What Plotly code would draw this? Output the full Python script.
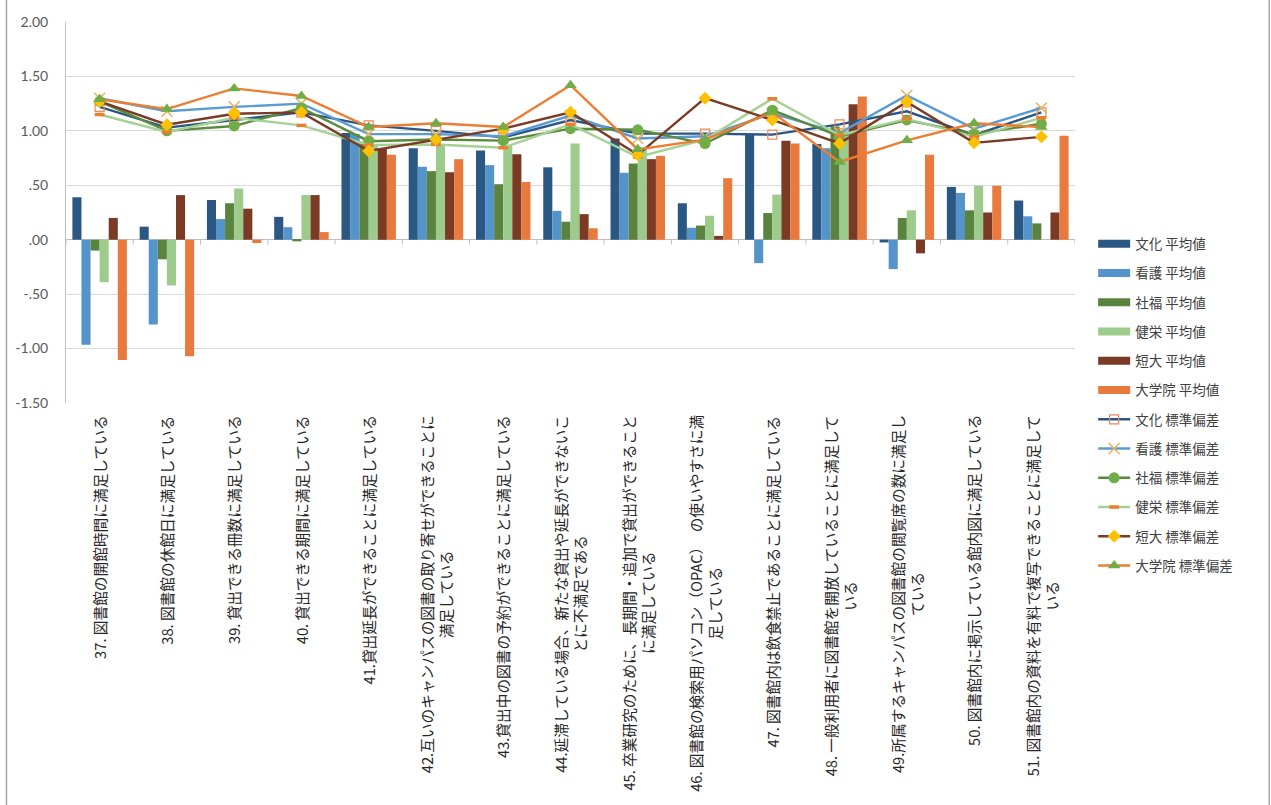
import plotly.graph_objects as go

# ---- data -------------------------------------------------------------
categories = [
    "37. 図書館の開館時間に満足している",
    "38. 図書館の休館日に満足している",
    "39. 貸出できる冊数に満足している",
    "40. 貸出できる期間に満足している",
    "41.貸出延長ができることに満足している",
    "42.互いのキャンパスの図書の取り寄せができることに<br>満足している",
    "43.貸出中の図書の予約ができることに満足している",
    "44.延滞している場合、新たな貸出や延長ができないこ<br>とに不満足である",
    "45. 卒業研究のために、長期間・追加で貸出ができること<br>に満足している",
    "46. 図書館の検索用パソコン（OPAC）　の使いやすさに満<br>足している",
    "47. 図書館内は飲食禁止であることに満足している",
    "48. 一般利用者に図書館を開放していることに満足して<br>いる",
    "49.所属するキャンパスの図書館の閲覧席の数に満足し<br>ている",
    "50. 図書館内に掲示している館内図に満足している",
    "51. 図書館内の資料を有料で複写できることに満足して<br>いる",
]

groups = ["文化", "看護", "社福", "健栄", "短大", "大学院"]

mean_bunka = [0.39, 0.12, 0.365, 0.21, 0.98, 0.84, 0.82, 0.665, 0.93, 0.335, 0.97, 0.88, -0.025, 0.485, 0.36]
mean_kango = [-0.965, -0.78, 0.19, 0.115, 0.97, 0.67, 0.685, 0.265, 0.615, 0.11, -0.215, 0.84, -0.27, 0.43, 0.215]
mean_shafuku = [-0.10, -0.18, 0.335, -0.015, 0.90, 0.63, 0.51, 0.165, 0.70, 0.13, 0.245, 1.04, 0.20, 0.27, 0.15]
mean_kenei = [-0.39, -0.42, 0.47, 0.41, 0.87, 0.88, 0.86, 0.885, 0.85, 0.22, 0.415, 1.00, 0.27, 0.495, None]
mean_tandai = [0.20, 0.41, 0.285, 0.41, 0.84, 0.62, 0.785, 0.235, 0.74, 0.035, 0.91, 1.245, -0.125, 0.25, 0.25]
mean_daigakuin = [-1.105, -1.07, -0.03, 0.07, 0.78, 0.74, 0.53, 0.105, 0.77, 0.565, 0.885, 1.315, 0.78, 0.495, 0.955]

sd_bunka = [1.22, 1.03, 1.10, 1.17, 1.05, 1.00, 0.94, 1.10, 0.975, 0.975, 0.965, 1.06, 1.18, 0.96, 1.17]
sd_kango = [1.30, 1.18, 1.22, 1.25, 0.97, 0.97, 0.95, 1.14, 0.93, 0.95, 1.16, 0.98, 1.325, 1.02, 1.21]
sd_shafuku = [1.27, 1.00, 1.045, 1.21, 0.905, 0.92, 0.91, 1.02, 1.01, 0.883, 1.19, 0.95, 1.10, 0.97, 1.065]
sd_kenei = [1.15, 0.99, 1.12, 1.05, 0.87, 0.875, 0.845, 1.06, 0.76, 0.92, 1.295, 0.96, 1.11, 0.945, 1.12]
sd_tandai = [1.27, 1.057, 1.157, 1.17, 0.815, 0.92, 1.02, 1.17, 0.78, 1.30, 1.10, 0.885, 1.265, 0.89, 0.945]
sd_daigakuin = [1.29, 1.20, 1.39, 1.32, 1.035, 1.07, 1.035, 1.42, 0.83, 0.92, 1.17, 0.715, 0.913, 1.07, 1.035]

y_tickvals = [2.0, 1.5, 1.0, 0.5, 0.0, -0.5, -1.0, -1.5]
y_ticktext = ["2.00", "1.50", "1.00", ".50", ".00", "-.50", "-1.00", "-1.50"]

# ---- styling ----------------------------------------------------------
bar_colors = ["#2B5783", "#5593CB", "#5A8340", "#9DCB8C", "#7B3A24", "#E97A3E"]
line_colors = ["#2B5783", "#5B9BD5", "#5A8A3C", "#A5D294", "#7B3A24", "#ED7D31"]
markers = [
    dict(symbol="square-open", size=9, color="#E9895A", line=dict(width=1.2, color="#E9895A")),
    dict(symbol="x-thin-open", size=11, color="#E4B567", line=dict(width=1.6, color="#E4B567")),
    dict(symbol="circle", size=11, color="#70AD47", line=dict(width=0)),
    dict(symbol="line-ew-open", size=7, color="#ED7D31", line=dict(width=3.5, color="#ED7D31")),
    dict(symbol="diamond", size=10, color="#FFC000", line=dict(width=0)),
    dict(symbol="triangle-up", size=11, color="#70AD47", line=dict(width=0)),
]

means = [mean_bunka, mean_kango, mean_shafuku, mean_kenei, mean_tandai, mean_daigakuin]
sds = [sd_bunka, sd_kango, sd_shafuku, sd_kenei, sd_tandai, sd_daigakuin]

FONT_JP = "Noto Sans CJK JP"
x_idx = list(range(len(categories)))

fig = go.Figure()

# legend keys for the bar series (wide swatches)
for g, c in zip(groups, bar_colors):
    fig.add_trace(go.Scatter(
        x=[None], y=[None], mode="lines", name=f"{g} 平均値",
        line=dict(color=c, width=8), legendgroup=f"{g}m", showlegend=True,
        hoverinfo="skip",
    ))

# mean values as grouped bars
for g, vals, c in zip(groups, means, bar_colors):
    fig.add_trace(go.Bar(
        x=x_idx, y=vals, name=f"{g} 平均値", marker=dict(color=c, line=dict(width=0)),
        legendgroup=f"{g}m", showlegend=False,
    ))

# standard deviations as lines with markers
for g, vals, c, m in zip(groups, sds, line_colors, markers):
    fig.add_trace(go.Scatter(
        x=x_idx, y=vals, mode="lines+markers", name=f"{g} 標準偏差",
        line=dict(color=c, width=2.4), marker=m, legendgroup=f"{g}s",
    ))

# category-boundary tick marks on the zero line
shapes = []
for k in range(len(categories) + 1):
    shapes.append(dict(type="line", xref="x", yref="y", x0=k - 0.5, x1=k - 0.5,
                       y0=0, y1=-0.045, line=dict(color="#BFBFBF", width=1)))
# chart-area frame (left and right edges)
for xp in (-0.059, 1.1925):
    shapes.append(dict(type="line", xref="paper", yref="paper", x0=xp, x1=xp,
                       y0=-1.1, y1=1.1, line=dict(color="#A6A6A6", width=1.5)))

# category labels: rotated, multi-line text centred
annotations = []
for i, lab in zip(x_idx, categories):
    annotations.append(dict(
        x=i, y=-0.027, xref="x", yref="paper", text=lab, showarrow=False,
        textangle=-90, xanchor="center", yanchor="top", align="center",
        font=dict(family=FONT_JP, size=14.7, color="#262626"),
    ))

fig.update_layout(
    width=1271, height=805,
    margin=dict(l=66, r=196, t=22, b=402),
    paper_bgcolor="white", plot_bgcolor="white",
    barmode="group", bargap=0.19, bargroupgap=0.0,
    font=dict(family=FONT_JP, color="#404040"),
    showlegend=True,
    legend=dict(
        x=1.018, y=0.458, xanchor="left", yanchor="top",
        font=dict(family=FONT_JP, size=13.5, color="#404040"),
        traceorder="grouped", tracegroupgap=8.7,
        itemwidth=32, bgcolor="rgba(0,0,0,0)",
    ),
    shapes=shapes,
    annotations=annotations,
)

fig.update_xaxes(
    type="linear",
    range=[-0.5, len(categories) - 0.5],
    showticklabels=False,
    showgrid=False, zeroline=False, showline=False, ticks="",
)

fig.update_yaxes(
    range=[-1.5, 2.0],
    tickmode="array", tickvals=y_tickvals, ticktext=y_ticktext,
    tickfont=dict(family="Lato", size=14, color="#595959"),
    showgrid=True, gridcolor="#D9D9D9", gridwidth=1,
    zeroline=True, zerolinecolor="#BFBFBF", zerolinewidth=1,
    showline=True, linecolor="#BFBFBF", linewidth=1,
    ticks="", ticklabelstandoff=14,
)

fig.write_html("out.html")
